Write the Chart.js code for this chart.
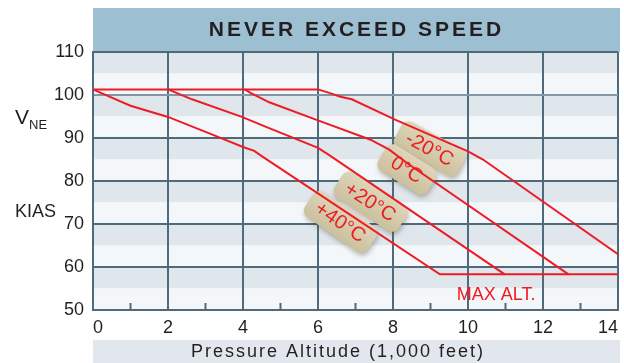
<!DOCTYPE html>
<html lang="en">
<head>
<meta charset="UTF-8">
<title>Never Exceed Speed</title>
<script src="https://cdn.jsdelivr.net/npm/chart.js"></script>
<style>
  html, body { margin: 0; padding: 0; background: #fff; }
  canvas { display: block; }
</style>
</head>
<body>
<canvas id="vneChart" width="624" height="363"></canvas>
<script>
// pressure altitude (1,000 ft) / never exceed speed (KIAS) along each temperature line
const altMinus20 = [0, 6.0, 6.3, 6.6, 6.9, 8.1, 8.5, 10.0, 10.4, 14.0];
const vneMinus20 = [101.3, 101.3, 100.5, 99.6, 99.0, 94.1, 92.6, 86.9, 85.0, 63.0];
const altZero = [4.05, 4.2, 4.7, 6.0, 7.4, 7.9, 8.4, 12.68];
const vneZero = [101.3, 100.5, 98.3, 94.1, 89.6, 87.3, 84.0, 58.3];
const altPlus20 = [2.0, 2.64, 3.97, 4.5, 6.0, 6.3, 10.98];
const vnePlus20 = [101.3, 99.0, 94.9, 93.0, 87.7, 86.0, 58.3];
const altPlus40 = [0, 0.5, 1.0, 2.0, 3.35, 4.0, 4.3, 4.5, 9.25, 14.0];
const vnePlus40 = [101.3, 99.4, 97.5, 94.9, 90.2, 87.9, 87.0, 85.8, 58.3, 58.3];

const tempLabels = ['-20°C', '0°C', '+20°C', '+40°C'];
const altTicks = [0, 2, 4, 6, 8, 10, 12, 14];
const vneTicks = [50, 60, 70, 80, 90, 100, 110];

const FONT = '"Liberation Sans", Arial, Helvetica, sans-serif';
const RED = '#ed1c24';
const GRID = '#4e6a7b';

function toPoints(xs, ys) {
  return xs.map((x, i) => ({ x: x, y: ys[i] }));
}

// tag anchors (altitude, KIAS), box width, rotation
const tagSpots = [
  [8.98, 87.5, 72, 0.50],
  [8.37, 82.7, 58, 0.56],
  [7.4, 75.2, 76, 0.57],
  [6.6, 70.5, 76, 0.60]
];

function drawTag(ctx, cx, cy, w, angle, text) {
  const h = 30;
  ctx.save();
  ctx.translate(cx, cy);
  ctx.rotate(angle);
  ctx.shadowColor = 'rgba(70, 60, 30, 0.35)';
  ctx.shadowBlur = 5;
  ctx.shadowOffsetX = 1;
  ctx.shadowOffsetY = 3;
  const g = ctx.createLinearGradient(0, -h / 2, 0, h / 2);
  g.addColorStop(0, '#ded6bb');
  g.addColorStop(1, '#cbc09d');
  ctx.fillStyle = g;
  ctx.beginPath();
  ctx.roundRect(-w / 2, -h / 2, w, h, 8);
  ctx.fill();
  ctx.shadowColor = 'transparent';
  ctx.fillStyle = RED;
  ctx.font = '20px ' + FONT;
  ctx.textAlign = 'center';
  ctx.textBaseline = 'middle';
  ctx.fillText(text, 0, 1);
  ctx.restore();
}

const decor = {
  id: 'decor',
  beforeDraw(chart) {
    const { ctx, chartArea: a, scales: { x, y } } = chart;
    const w = a.right - a.left;
    ctx.save();
    // heading bar and axis title bar
    ctx.fillStyle = '#9dbfd2';
    ctx.fillRect(a.left, 8, w + 2, a.top - 8);
    ctx.fillStyle = '#e1e7ec';
    ctx.fillRect(a.left, 340, w + 2, 23);
    // shaded half-bands between the speed lines
    for (let v = 50; v < 110; v += 10) {
      const yTop = y.getPixelForValue(v + 10);
      const yMid = y.getPixelForValue(v + 5);
      const yBot = y.getPixelForValue(v);
      ctx.fillStyle = '#dfe6ec';
      ctx.fillRect(a.left, yTop, w, yMid - yTop);
      ctx.fillStyle = '#f4f7fa';
      ctx.fillRect(a.left, yMid, w, yBot - yMid);
    }

    ctx.fillStyle = '#231f20';
    ctx.textBaseline = 'middle';
    ctx.textAlign = 'center';
    ctx.font = 'bold 21px ' + FONT;
    ctx.letterSpacing = '3px';
    ctx.fillText('NEVER EXCEED SPEED', (a.left + a.right) / 2 + 1, 30);
    ctx.font = '18px ' + FONT;
    ctx.letterSpacing = '2px';
    ctx.fillText('Pressure Altitude (1,000 feet)', 338, 352);
    ctx.letterSpacing = '0px';
    ctx.textAlign = 'left';
    ctx.textBaseline = 'alphabetic';
    ctx.font = '21px ' + FONT;
    ctx.fillText('V', 15, 124);
    ctx.font = '13px ' + FONT;
    ctx.fillText('NE', 29, 129);
    ctx.font = '18px ' + FONT;
    ctx.fillText('KIAS', 15, 217);
    ctx.restore();
  },
  beforeDatasetsDraw(chart) {
    const { ctx, chartArea: a, scales: { x, y } } = chart;
    ctx.save();
    // short marks at the odd thousands
    ctx.strokeStyle = GRID;
    ctx.lineWidth = 2;
    for (let v = 1; v < 14; v += 2) {
      const px = x.getPixelForValue(v);
      ctx.beginPath();
      ctx.moveTo(px, a.bottom);
      ctx.lineTo(px, a.bottom - 7);
      ctx.stroke();
    }
    tagSpots.forEach((t, i) => {
      drawTag(ctx, x.getPixelForValue(t[0]), y.getPixelForValue(t[1]), t[2], t[3], tempLabels[i]);
    });
    ctx.fillStyle = RED;
    ctx.font = '18px ' + FONT;
    ctx.textAlign = 'left';
    ctx.textBaseline = 'alphabetic';
    ctx.fillText('MAX ALT.', x.getPixelForValue(9.7), y.getPixelForValue(52.4));
    ctx.restore();
  }
};

function lineSet(label, xs, ys) {
  return {
    label: label,
    data: toPoints(xs, ys),
    borderColor: RED,
    borderWidth: 2,
    pointRadius: 0,
    tension: 0,
    fill: false
  };
}

new Chart(document.getElementById('vneChart'), {
  type: 'line',
  data: {
    datasets: [
      lineSet(tempLabels[0], altMinus20, vneMinus20),
      lineSet(tempLabels[1], altZero, vneZero),
      lineSet(tempLabels[2], altPlus20, vnePlus20),
      lineSet(tempLabels[3], altPlus40, vnePlus40)
    ]
  },
  options: {
    responsive: false,
    animation: false,
    devicePixelRatio: 1,
    layout: { padding: { left: 0, top: 52, right: 6, bottom: 0 } },
    plugins: { legend: { display: false }, tooltip: { enabled: false } },
    scales: {
      x: {
        type: 'linear',
        min: altTicks[0],
        max: altTicks[altTicks.length - 1],
        afterBuildTicks: s => { s.ticks = altTicks.map(v => ({ value: v })); },
        afterFit: s => { s.height = 53; s.paddingLeft = 0; s.paddingRight = 0; },
        grid: { color: GRID, lineWidth: 2, drawTicks: false },
        border: { color: GRID, width: 2 },
        ticks: { align: 'inner', padding: 7, color: '#231f20', font: { family: FONT, size: 18 } }
      },
      y: {
        type: 'linear',
        min: vneTicks[0],
        max: vneTicks[vneTicks.length - 1],
        afterBuildTicks: s => { s.ticks = vneTicks.map(v => ({ value: v })); },
        afterFit: s => { s.width = 93; },
        grid: {
          color: c => (c.tick && c.tick.value === 100 ? '#7f97a6' : GRID),
          lineWidth: 2,
          drawTicks: false
        },
        border: { color: GRID, width: 2 },
        ticks: { padding: 9, color: '#231f20', font: { family: FONT, size: 18 } }
      }
    }
  },
  plugins: [decor]
});
</script>
</body>
</html>
